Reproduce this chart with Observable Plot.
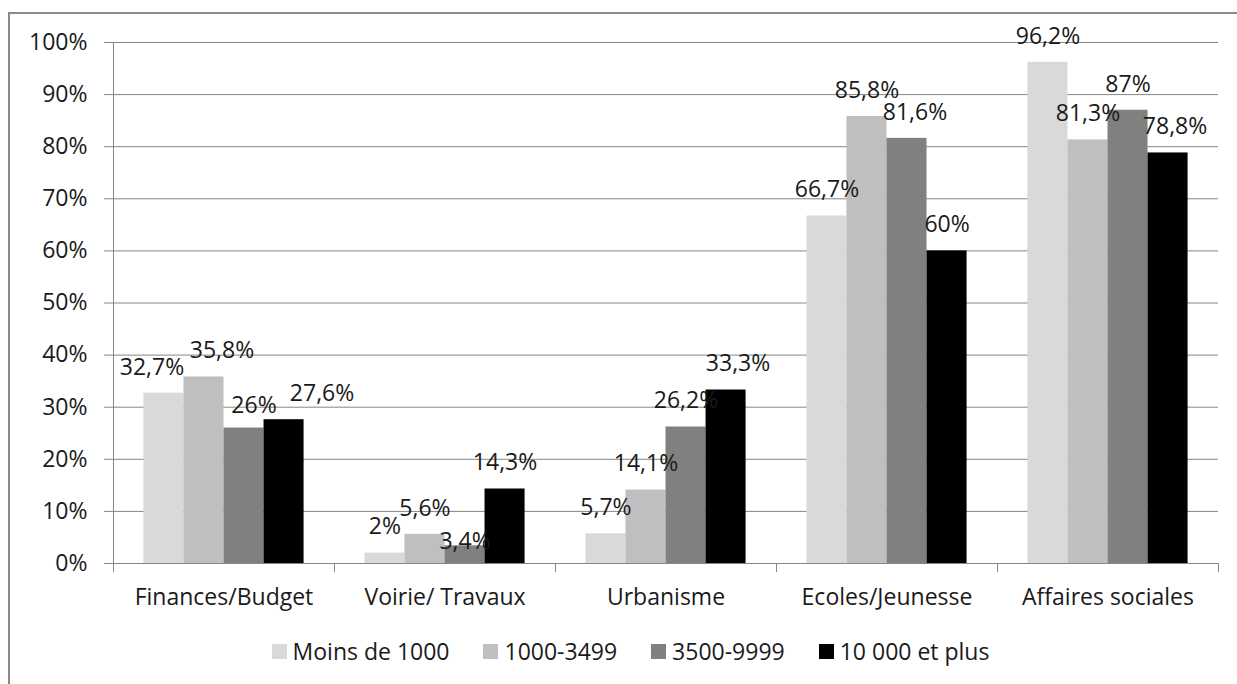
<!DOCTYPE html>
<html><head><meta charset="utf-8">
<script src="https://cdn.jsdelivr.net/npm/d3@7"></script>
<script src="https://cdn.jsdelivr.net/npm/@observablehq/plot@0.6"></script>
<style>
html,body{margin:0;padding:0;background:#fff;overflow:hidden;width:1237px;height:684px;}
#wrap{position:relative;width:1237px;height:684px;font-family:"Open Sans",sans-serif;color:#1a1a1a;}
#border{position:absolute;left:8px;top:12px;width:1400px;height:900px;border:2px solid #8a8a8a;box-sizing:border-box;}
#chart{position:absolute;left:0;top:0;}
#legend{position:absolute;left:0;top:638px;width:1237px;display:flex;justify-content:center;padding-left:24px;box-sizing:border-box;font-size:23px;line-height:26px;}
.item{display:flex;align-items:center;margin:0 17px;}
.sw{width:15px;height:15px;margin-right:6px;}
</style></head>
<body><div id="wrap"><div id="border"></div><div id="chart"></div><div id="legend"></div></div>
<script>
const categories = ["Finances/Budget", "Voirie/ Travaux", "Urbanisme", "Ecoles/Jeunesse", "Affaires sociales"];
const series = ["Moins de 1000", "1000-3499", "3500-9999", "10 000 et plus"];
const moins1000 = [32.7, 2, 5.7, 66.7, 96.2];
const de1000a3499 = [35.8, 5.6, 14.1, 85.8, 81.3];
const de3500a9999 = [26, 3.4, 26.2, 81.6, 87];
const plus10000 = [27.6, 14.3, 33.3, 60, 78.8];
const yTicks = [0, 10, 20, 30, 40, 50, 60, 70, 80, 90, 100];
const colors = ["#d9d9d9", "#bfbfbf", "#808080", "#000000"];
const axisGray = "#868686";
const textColor = "#1a1a1a";

// label placement nudges (pixels), as the reference's data labels were moved by hand
const labelNudges = {
  "Finances/Budget|Moins de 1000": [-12, 0],
  "Finances/Budget|1000-3499": [18, 0],
  "Finances/Budget|3500-9999": [10, 4],
  "Finances/Budget|10 000 et plus": [38, 0],
  "Voirie/ Travaux|3500-9999": [0, 22],
  "Urbanisme|10 000 et plus": [12, 0],
  "Ecoles/Jeunesse|3500-9999": [8, 0],
  "Affaires sociales|10 000 et plus": [7, 0]
};

const seriesValues = [moins1000, de1000a3499, de3500a9999, plus10000];
const fmt = v => String(v).replace(".", ",") + "%";
const data = categories.flatMap((c, i) => series.map((s, j) => ({
  category: c, series: s, value: seriesValues[j][i], label: fmt(seriesValues[j][i]), key: c + "|" + s
})));

const W = 1237, H = 620, mL = 111, mR = 17, mT = 42, mB = 57;
const innerH = H - mT - mB;
const baseDy = -26;

const textOpts = {fx: "category", x: "series", y: "value", text: "label", lineAnchor: "middle", fill: textColor};
const labelMarks = [
  Plot.text(data.filter(d => !labelNudges[d.key]), {...textOpts, dy: baseDy}),
  ...Object.entries(labelNudges).map(([k, [dx, dy]]) =>
    Plot.text(data.filter(d => d.key === k), {...textOpts, dx, dy: baseDy + dy}))
];

const chart = Plot.plot({
  width: W, height: H,
  marginLeft: mL, marginRight: mR, marginTop: mT, marginBottom: mB,
  style: {fontFamily: '"Open Sans", sans-serif', fontSize: "23px", color: textColor, background: "transparent", overflow: "visible"},
  fx: {domain: categories, paddingInner: 0, paddingOuter: 0, label: null},
  x: {domain: series, paddingInner: 0, paddingOuter: 0.76, round: false, axis: null},
  y: {domain: [0, 100], label: null},
  color: {domain: series, range: colors},
  marks: [
    Plot.gridY(yTicks, {stroke: axisGray, strokeOpacity: 1}),
    Plot.frame({anchor: "left", stroke: axisGray, insetTop: innerH, insetBottom: -8}),
    Plot.frame({anchor: "right", stroke: axisGray, insetTop: innerH, insetBottom: -8, fx: () => categories[categories.length - 1]}),
    Plot.frame({anchor: "left", stroke: axisGray, insetBottom: -8, fx: () => categories[0]}),
    Plot.axisY(yTicks, {tickFormat: d => d + "%", tickSize: 9, tickPadding: 17, stroke: axisGray, fill: textColor, label: null}),
    Plot.barY(data, {fx: "category", x: "series", y: "value", fill: "series", inset: 0}),
    Plot.ruleY([0], {stroke: axisGray}),
    ...labelMarks,
    Plot.axisFx({anchor: "bottom", tickSize: 0, tickPadding: 25, label: null, fill: textColor})
  ]
});
document.getElementById("chart").appendChild(chart);

const legend = document.getElementById("legend");
series.forEach((s, j) => {
  const it = document.createElement("div");
  it.className = "item";
  const sw = document.createElement("div");
  sw.className = "sw";
  sw.style.background = colors[j];
  const tx = document.createElement("span");
  tx.textContent = s;
  it.appendChild(sw); it.appendChild(tx);
  legend.appendChild(it);
});
</script>
</body></html>
